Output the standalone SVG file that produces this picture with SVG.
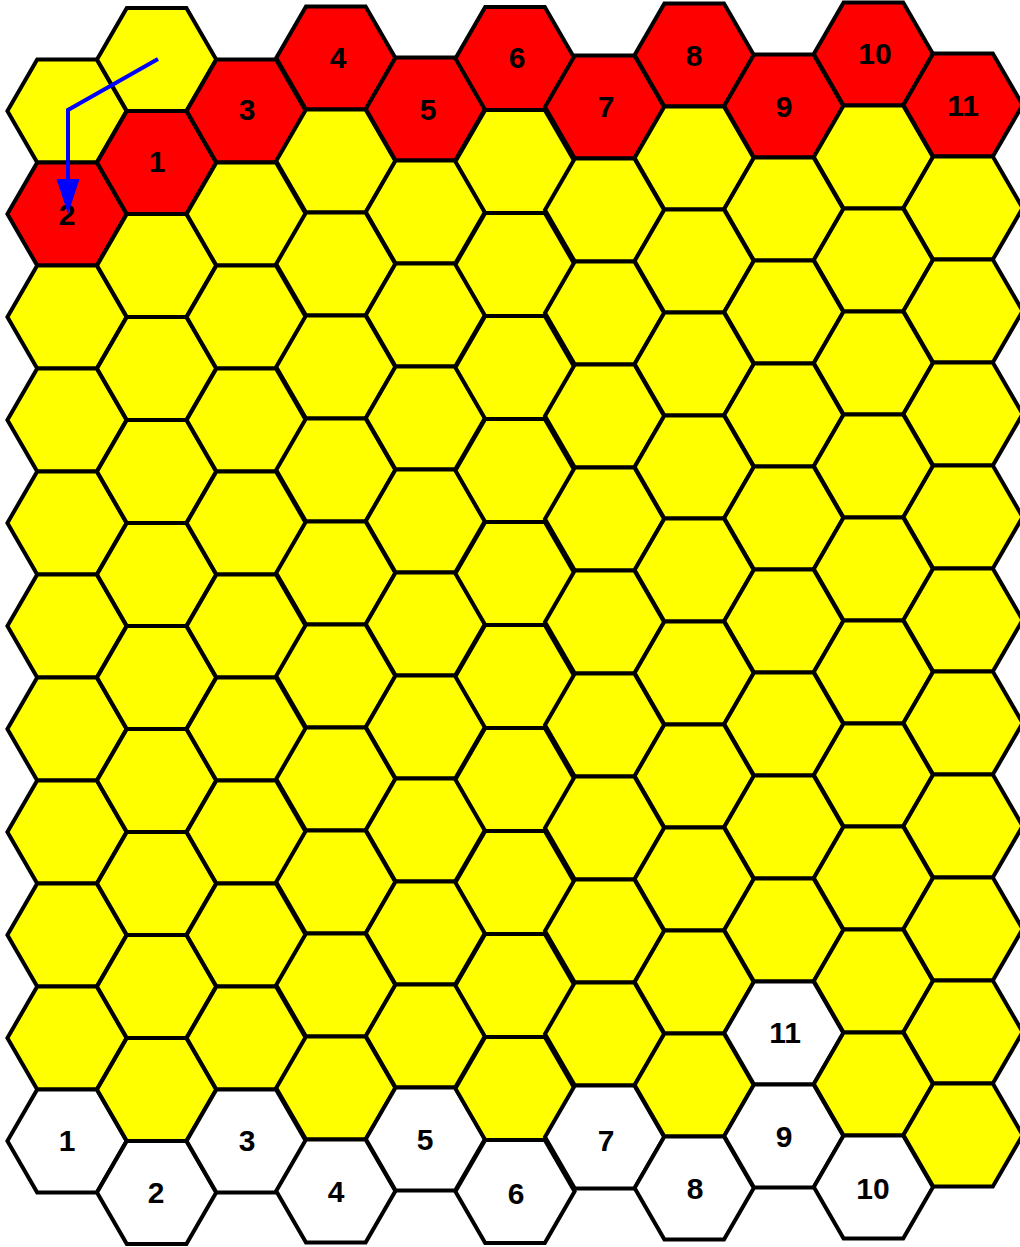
<svg xmlns="http://www.w3.org/2000/svg" xmlns:xlink="http://www.w3.org/1999/xlink" width="1020" height="1247" viewBox="0 0 1020 1247">
<style>
.h{stroke:#000;stroke-width:4;stroke-linejoin:miter}
.y{fill:#ffff00}
.r{fill:#ff0000}
.w{fill:#ffffff}
.t{font-family:"Liberation Sans",Arial,sans-serif;font-weight:bold;font-size:30px;fill:#000;text-anchor:middle}
.arrow{fill:none;stroke:#0000ff;stroke-width:4;stroke-linejoin:miter}
</style>
<defs>
<polygon id="hex" points="-59.6,0 -29.8,-51.6 29.8,-51.6 59.6,0 29.8,51.6 -29.8,51.6"/>
<marker id="ah" markerUnits="userSpaceOnUse" markerWidth="36" markerHeight="24" refX="0" refY="11.5" orient="auto" viewBox="0 0 36 24">
<path d="M0,0 L35,11.5 L0,23 z" fill="#0000ff"/>
</marker>
</defs>
<g id="nodes">
<!-- column 0 -->
<g id="c0r0"><use href="#hex" class="h y" x="67" y="111"/></g>
<g id="c0r1"><use href="#hex" class="h r" x="67" y="214"/><text class="t" x="67" y="225">2</text></g>
<g id="c0r2"><use href="#hex" class="h y" x="67" y="317"/></g>
<g id="c0r3"><use href="#hex" class="h y" x="67" y="420"/></g>
<g id="c0r4"><use href="#hex" class="h y" x="67" y="523"/></g>
<g id="c0r5"><use href="#hex" class="h y" x="67" y="626"/></g>
<g id="c0r6"><use href="#hex" class="h y" x="67" y="729"/></g>
<g id="c0r7"><use href="#hex" class="h y" x="67" y="832"/></g>
<g id="c0r8"><use href="#hex" class="h y" x="67" y="935"/></g>
<g id="c0r9"><use href="#hex" class="h y" x="67" y="1038"/></g>
<g id="c0r10"><use href="#hex" class="h w" x="67" y="1141"/><text class="t" x="67" y="1151">1</text></g>
<!-- column 1 -->
<g id="c1r0"><use href="#hex" class="h y" x="156.6" y="59.5"/></g>
<g id="c1r1"><use href="#hex" class="h r" x="156.6" y="162.5"/><text class="t" x="157" y="172">1</text></g>
<g id="c1r2"><use href="#hex" class="h y" x="156.6" y="265.5"/></g>
<g id="c1r3"><use href="#hex" class="h y" x="156.6" y="368.5"/></g>
<g id="c1r4"><use href="#hex" class="h y" x="156.6" y="471.5"/></g>
<g id="c1r5"><use href="#hex" class="h y" x="156.6" y="574.5"/></g>
<g id="c1r6"><use href="#hex" class="h y" x="156.6" y="677.5"/></g>
<g id="c1r7"><use href="#hex" class="h y" x="156.6" y="780.5"/></g>
<g id="c1r8"><use href="#hex" class="h y" x="156.6" y="883.5"/></g>
<g id="c1r9"><use href="#hex" class="h y" x="156.6" y="986.5"/></g>
<g id="c1r10"><use href="#hex" class="h y" x="156.6" y="1089.5"/></g>
<g id="c1r11"><use href="#hex" class="h w" x="156.6" y="1192.5"/><text class="t" x="156" y="1203">2</text></g>
<!-- column 2 -->
<g id="c2r0"><use href="#hex" class="h r" x="246.2" y="111"/><text class="t" x="247" y="120">3</text></g>
<g id="c2r1"><use href="#hex" class="h y" x="246.2" y="214"/></g>
<g id="c2r2"><use href="#hex" class="h y" x="246.2" y="317"/></g>
<g id="c2r3"><use href="#hex" class="h y" x="246.2" y="420"/></g>
<g id="c2r4"><use href="#hex" class="h y" x="246.2" y="523"/></g>
<g id="c2r5"><use href="#hex" class="h y" x="246.2" y="626"/></g>
<g id="c2r6"><use href="#hex" class="h y" x="246.2" y="729"/></g>
<g id="c2r7"><use href="#hex" class="h y" x="246.2" y="832"/></g>
<g id="c2r8"><use href="#hex" class="h y" x="246.2" y="935"/></g>
<g id="c2r9"><use href="#hex" class="h y" x="246.2" y="1038"/></g>
<g id="c2r10"><use href="#hex" class="h w" x="246.2" y="1141"/><text class="t" x="247" y="1151">3</text></g>
<!-- column 3 -->
<g id="c3r0"><use href="#hex" class="h r" x="335.8" y="58"/><text class="t" x="338" y="68">4</text></g>
<g id="c3r1"><use href="#hex" class="h y" x="335.8" y="161"/></g>
<g id="c3r2"><use href="#hex" class="h y" x="335.8" y="264"/></g>
<g id="c3r3"><use href="#hex" class="h y" x="335.8" y="367"/></g>
<g id="c3r4"><use href="#hex" class="h y" x="335.8" y="470"/></g>
<g id="c3r5"><use href="#hex" class="h y" x="335.8" y="573"/></g>
<g id="c3r6"><use href="#hex" class="h y" x="335.8" y="676"/></g>
<g id="c3r7"><use href="#hex" class="h y" x="335.8" y="779"/></g>
<g id="c3r8"><use href="#hex" class="h y" x="335.8" y="882"/></g>
<g id="c3r9"><use href="#hex" class="h y" x="335.8" y="985"/></g>
<g id="c3r10"><use href="#hex" class="h y" x="335.8" y="1088"/></g>
<g id="c3r11"><use href="#hex" class="h w" x="335.8" y="1191"/><text class="t" x="336" y="1202">4</text></g>
<!-- column 4 -->
<g id="c4r0"><use href="#hex" class="h r" x="425.4" y="109"/><text class="t" x="428" y="120">5</text></g>
<g id="c4r1"><use href="#hex" class="h y" x="425.4" y="212"/></g>
<g id="c4r2"><use href="#hex" class="h y" x="425.4" y="315"/></g>
<g id="c4r3"><use href="#hex" class="h y" x="425.4" y="418"/></g>
<g id="c4r4"><use href="#hex" class="h y" x="425.4" y="521"/></g>
<g id="c4r5"><use href="#hex" class="h y" x="425.4" y="624"/></g>
<g id="c4r6"><use href="#hex" class="h y" x="425.4" y="727"/></g>
<g id="c4r7"><use href="#hex" class="h y" x="425.4" y="830"/></g>
<g id="c4r8"><use href="#hex" class="h y" x="425.4" y="933"/></g>
<g id="c4r9"><use href="#hex" class="h y" x="425.4" y="1036"/></g>
<g id="c4r10"><use href="#hex" class="h w" x="425.4" y="1139"/><text class="t" x="425" y="1150">5</text></g>
<!-- column 5 -->
<g id="c5r0"><use href="#hex" class="h r" x="515" y="58.5"/><text class="t" x="517" y="68">6</text></g>
<g id="c5r1"><use href="#hex" class="h y" x="515" y="161.5"/></g>
<g id="c5r2"><use href="#hex" class="h y" x="515" y="264.5"/></g>
<g id="c5r3"><use href="#hex" class="h y" x="515" y="367.5"/></g>
<g id="c5r4"><use href="#hex" class="h y" x="515" y="470.5"/></g>
<g id="c5r5"><use href="#hex" class="h y" x="515" y="573.5"/></g>
<g id="c5r6"><use href="#hex" class="h y" x="515" y="676.5"/></g>
<g id="c5r7"><use href="#hex" class="h y" x="515" y="779.5"/></g>
<g id="c5r8"><use href="#hex" class="h y" x="515" y="882.5"/></g>
<g id="c5r9"><use href="#hex" class="h y" x="515" y="985.5"/></g>
<g id="c5r10"><use href="#hex" class="h y" x="515" y="1088.5"/></g>
<g id="c5r11"><use href="#hex" class="h w" x="515" y="1191.5"/><text class="t" x="516" y="1204">6</text></g>
<!-- column 6 -->
<g id="c6r0"><use href="#hex" class="h r" x="604.6" y="107"/><text class="t" x="606" y="117">7</text></g>
<g id="c6r1"><use href="#hex" class="h y" x="604.6" y="210"/></g>
<g id="c6r2"><use href="#hex" class="h y" x="604.6" y="313"/></g>
<g id="c6r3"><use href="#hex" class="h y" x="604.6" y="416"/></g>
<g id="c6r4"><use href="#hex" class="h y" x="604.6" y="519"/></g>
<g id="c6r5"><use href="#hex" class="h y" x="604.6" y="622"/></g>
<g id="c6r6"><use href="#hex" class="h y" x="604.6" y="725"/></g>
<g id="c6r7"><use href="#hex" class="h y" x="604.6" y="828"/></g>
<g id="c6r8"><use href="#hex" class="h y" x="604.6" y="931"/></g>
<g id="c6r9"><use href="#hex" class="h y" x="604.6" y="1034"/></g>
<g id="c6r10"><use href="#hex" class="h w" x="604.6" y="1137"/><text class="t" x="606" y="1151">7</text></g>
<!-- column 7 -->
<g id="c7r0"><use href="#hex" class="h r" x="694.2" y="55"/><text class="t" x="694" y="66">8</text></g>
<g id="c7r1"><use href="#hex" class="h y" x="694.2" y="158"/></g>
<g id="c7r2"><use href="#hex" class="h y" x="694.2" y="261"/></g>
<g id="c7r3"><use href="#hex" class="h y" x="694.2" y="364"/></g>
<g id="c7r4"><use href="#hex" class="h y" x="694.2" y="467"/></g>
<g id="c7r5"><use href="#hex" class="h y" x="694.2" y="570"/></g>
<g id="c7r6"><use href="#hex" class="h y" x="694.2" y="673"/></g>
<g id="c7r7"><use href="#hex" class="h y" x="694.2" y="776"/></g>
<g id="c7r8"><use href="#hex" class="h y" x="694.2" y="879"/></g>
<g id="c7r9"><use href="#hex" class="h y" x="694.2" y="982"/></g>
<g id="c7r10"><use href="#hex" class="h y" x="694.2" y="1085"/></g>
<g id="c7r11"><use href="#hex" class="h w" x="694.2" y="1188"/><text class="t" x="695" y="1199">8</text></g>
<!-- column 8 -->
<g id="c8r0"><use href="#hex" class="h r" x="783.8" y="106"/><text class="t" x="784" y="117">9</text></g>
<g id="c8r1"><use href="#hex" class="h y" x="783.8" y="209"/></g>
<g id="c8r2"><use href="#hex" class="h y" x="783.8" y="312"/></g>
<g id="c8r3"><use href="#hex" class="h y" x="783.8" y="415"/></g>
<g id="c8r4"><use href="#hex" class="h y" x="783.8" y="518"/></g>
<g id="c8r5"><use href="#hex" class="h y" x="783.8" y="621"/></g>
<g id="c8r6"><use href="#hex" class="h y" x="783.8" y="724"/></g>
<g id="c8r7"><use href="#hex" class="h y" x="783.8" y="827"/></g>
<g id="c8r8"><use href="#hex" class="h y" x="783.8" y="930"/></g>
<g id="c8r9"><use href="#hex" class="h w" x="783.8" y="1033"/><text class="t" x="785" y="1043">11</text></g>
<g id="c8r10"><use href="#hex" class="h w" x="783.8" y="1136"/><text class="t" x="784" y="1147">9</text></g>
<!-- column 9 -->
<g id="c9r0"><use href="#hex" class="h r" x="873.4" y="54"/><text class="t" x="875" y="64">10</text></g>
<g id="c9r1"><use href="#hex" class="h y" x="873.4" y="157"/></g>
<g id="c9r2"><use href="#hex" class="h y" x="873.4" y="260"/></g>
<g id="c9r3"><use href="#hex" class="h y" x="873.4" y="363"/></g>
<g id="c9r4"><use href="#hex" class="h y" x="873.4" y="466"/></g>
<g id="c9r5"><use href="#hex" class="h y" x="873.4" y="569"/></g>
<g id="c9r6"><use href="#hex" class="h y" x="873.4" y="672"/></g>
<g id="c9r7"><use href="#hex" class="h y" x="873.4" y="775"/></g>
<g id="c9r8"><use href="#hex" class="h y" x="873.4" y="878"/></g>
<g id="c9r9"><use href="#hex" class="h y" x="873.4" y="981"/></g>
<g id="c9r10"><use href="#hex" class="h y" x="873.4" y="1084"/></g>
<g id="c9r11"><use href="#hex" class="h w" x="873.4" y="1187"/><text class="t" x="873" y="1199">10</text></g>
<!-- column 10 -->
<g id="c10r0"><use href="#hex" class="h r" x="963" y="105"/><text class="t" x="963" y="116">11</text></g>
<g id="c10r1"><use href="#hex" class="h y" x="963" y="208"/></g>
<g id="c10r2"><use href="#hex" class="h y" x="963" y="311"/></g>
<g id="c10r3"><use href="#hex" class="h y" x="963" y="414"/></g>
<g id="c10r4"><use href="#hex" class="h y" x="963" y="517"/></g>
<g id="c10r5"><use href="#hex" class="h y" x="963" y="620"/></g>
<g id="c10r6"><use href="#hex" class="h y" x="963" y="723"/></g>
<g id="c10r7"><use href="#hex" class="h y" x="963" y="826"/></g>
<g id="c10r8"><use href="#hex" class="h y" x="963" y="929"/></g>
<g id="c10r9"><use href="#hex" class="h y" x="963" y="1032"/></g>
<g id="c10r10"><use href="#hex" class="h y" x="963" y="1135"/></g>
</g>
<g id="connectors">
<path class="arrow" d="M158,59 L68,110 L68,179" marker-end="url(#ah)"/>
</g>
</svg>
